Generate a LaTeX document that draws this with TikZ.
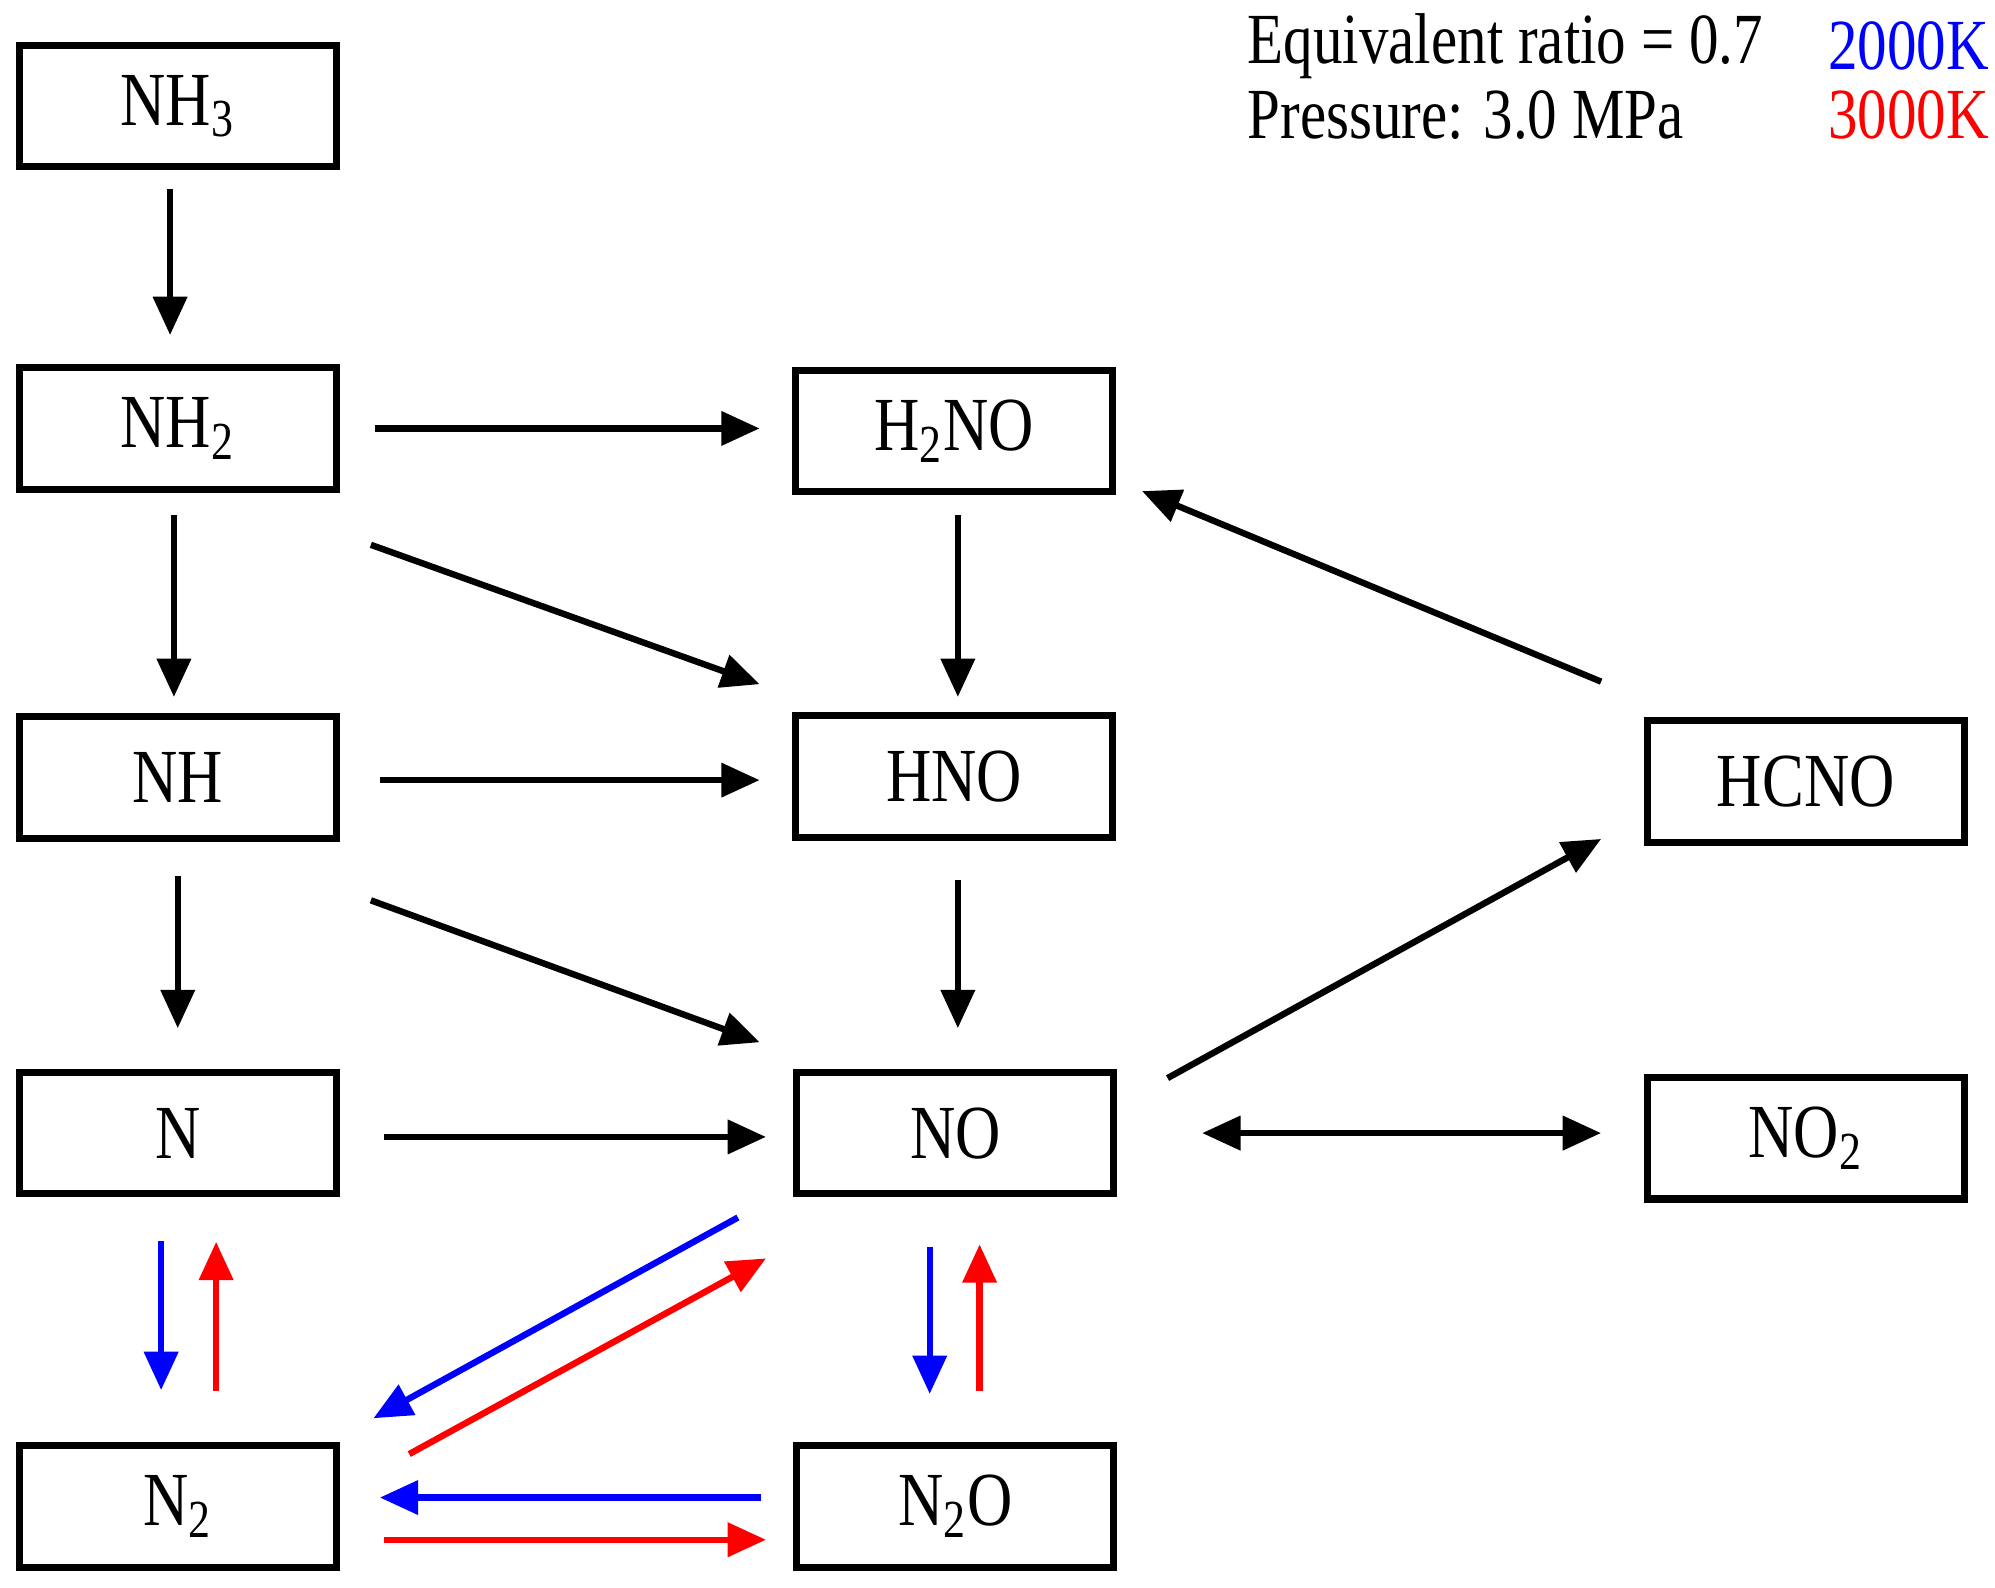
\documentclass[tikz,border=0pt]{standalone}
\usepackage{fontspec}
\setmainfont{Liberation Serif}
\usetikzlibrary{arrows.meta}
\newcommand{\sqz}[1]{\scalebox{0.82}[1]{#1}}
\begin{document}
\begin{tikzpicture}[x=0.01cm,y=-0.01cm,
  box/.style={draw,line width=0.055cm,minimum width=2.48cm,minimum height=0.95cm,inner sep=0pt,font=\fontsize{17}{20}\selectfont},
  ar/.style={line width=0.05cm,-{Triangle[length=0.3cm,width=0.26cm]}},
  dar/.style={line width=0.05cm,{Triangle[length=0.3cm,width=0.26cm]}-{Triangle[length=0.3cm,width=0.26cm]}},
  lab/.style={font=\fontsize{16}{19}\selectfont,inner sep=0pt}]
\useasboundingbox (0,0) rectangle (1560,1241);
\node[box] (nh3) at (139,83) {\sqz{NH\textsubscript{3}}};
\node[box] (nh2) at (139,335) {\sqz{NH\textsubscript{2}}};
\node[box] (nh) at (139,608) {\sqz{NH}};
\node[box] (n) at (139,886) {\sqz{N}};
\node[box] (n2) at (139,1178) {\sqz{N\textsubscript{2}}};
\node[box] (h2no) at (746,337) {\sqz{H\textsubscript{2}NO}};
\node[box] (hno) at (746,607) {\sqz{HNO}};
\node[box] (no) at (747,886) {\sqz{NO}};
\node[box] (n2o) at (747,1178) {\sqz{N\textsubscript{2}O}};
\node[box] (hcno) at (1412,611) {\sqz{HCNO}};
\node[box] (no2) at (1412,890) {\sqz{NO\textsubscript{2}}};
\node[lab,anchor=west] (t1) at (975,36) {\sqz{Equivalent ratio = 0.7}};
\node[lab,anchor=west] (t2) at (975,90) {\sqz{Pressure: 3.0 MPa}};
\node[lab,anchor=east,text=blue] (t3) at (1556,36) {\sqz{2000K}};
\node[lab,anchor=east,text=red] (t4) at (1556,90) {\sqz{3000K}};
\coordinate (a1) at (133,148); \coordinate (a2) at (133,262);
\coordinate (b1) at (293,335); \coordinate (b2) at (594,335);
\coordinate (c1) at (136,403); \coordinate (c2) at (136,545);
\coordinate (d1) at (290,426); \coordinate (d2) at (594,535);
\coordinate (e1) at (749,403); \coordinate (e2) at (749,545);
\coordinate (f1) at (1252,533); \coordinate (f2) at (893,384);
\coordinate (g1) at (297,610); \coordinate (g2) at (594,610);
\coordinate (h1) at (139,685); \coordinate (h2) at (139,804);
\coordinate (i1) at (290,704); \coordinate (i2) at (594,815);
\coordinate (j1) at (749,688); \coordinate (j2) at (749,804);
\coordinate (k1) at (913,843); \coordinate (k2) at (1252,656);
\coordinate (l1) at (300,889); \coordinate (l2) at (599,889);
\coordinate (m1) at (940,886); \coordinate (m2) at (1252,886);
\draw[ar] (a1)--(a2);
\draw[ar] (b1)--(b2);
\draw[ar] (c1)--(c2);
\draw[ar] (d1)--(d2);
\draw[ar] (e1)--(e2);
\draw[ar] (f1)--(f2);
\draw[ar] (g1)--(g2);
\draw[ar] (h1)--(h2);
\draw[ar] (i1)--(i2);
\draw[ar] (j1)--(j2);
\draw[ar] (k1)--(k2);
\draw[ar] (l1)--(l2);
\draw[dar] (m1)--(m2);
\coordinate (p1) at (126,970); \coordinate (p2) at (126,1087);
\coordinate (q1) at (169,1088); \coordinate (q2) at (169,971);
\coordinate (r1) at (577,952); \coordinate (r2) at (292,1109);
\coordinate (s1) at (320,1137); \coordinate (s2) at (599,984);
\coordinate (u1) at (727,975); \coordinate (u2) at (727,1090);
\coordinate (v1) at (766,1088); \coordinate (v2) at (766,973);
\coordinate (w1) at (595,1171); \coordinate (w2) at (297,1171);
\coordinate (z1) at (300,1204); \coordinate (z2) at (599,1204);
\draw[ar,blue] (p1)--(p2);
\draw[ar,red] (q1)--(q2);
\draw[ar,blue] (r1)--(r2);
\draw[ar,red] (s1)--(s2);
\draw[ar,blue] (u1)--(u2);
\draw[ar,red] (v1)--(v2);
\draw[ar,blue] (w1)--(w2);
\draw[ar,red] (z1)--(z2);
\end{tikzpicture}
\end{document}
